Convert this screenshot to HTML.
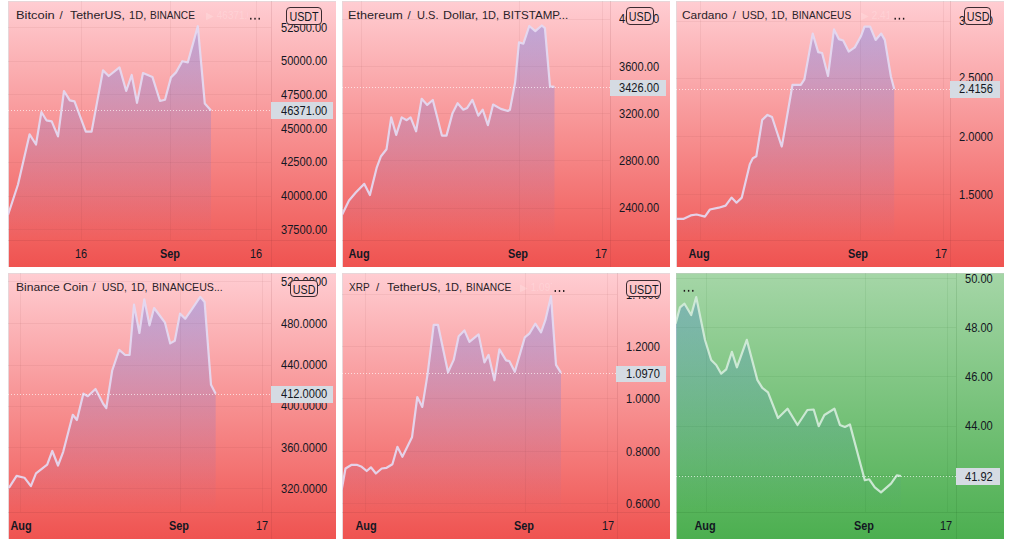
<!DOCTYPE html><html><head><meta charset="utf-8"><style>
*{margin:0;padding:0;box-sizing:border-box}
html,body{width:1014px;height:541px;background:#fff;overflow:hidden;font-family:"Liberation Sans",sans-serif;color:#131722}
.t{position:absolute;white-space:pre;line-height:14px;height:14px}
.pl{font-size:12px;transform:scaleX(0.925);transform-origin:0 50%}
.tl{font-size:12px;text-align:center;width:40px;transform:scaleX(0.91);transform-origin:50% 50%}
.b{font-weight:bold}
.ti{font-size:11.5px;color:#2a2228}
.box{position:absolute;border:1.5px solid #3b2a30;border-radius:4px;text-align:center}
.box span{display:block;position:relative;top:2px;font-size:12.5px;line-height:15px;transform:scaleX(0.86);transform-origin:50% 50%}
.lp{position:absolute;background:#d5dbe3}
</style></head><body><svg width="1014" height="541" viewBox="0 0 1014 541" style="position:absolute;left:0;top:0">
<defs>
<linearGradient id="bg0" x1="0" y1="1" x2="0" y2="267" gradientUnits="userSpaceOnUse"><stop offset="0" stop-color="#ffcdd2"/><stop offset="1" stop-color="#ef5350"/></linearGradient>
<linearGradient id="fg0" x1="0" y1="1" x2="0" y2="240" gradientUnits="userSpaceOnUse"><stop offset="0" stop-color="rgb(41,98,255)" stop-opacity="0.32"/><stop offset="1" stop-color="rgb(41,98,255)" stop-opacity="0"/></linearGradient>
<clipPath id="cp0"><rect x="8" y="1" width="263" height="239"/></clipPath>
<linearGradient id="bg1" x1="0" y1="1" x2="0" y2="267" gradientUnits="userSpaceOnUse"><stop offset="0" stop-color="#ffcdd2"/><stop offset="1" stop-color="#ef5350"/></linearGradient>
<linearGradient id="fg1" x1="0" y1="1" x2="0" y2="240" gradientUnits="userSpaceOnUse"><stop offset="0" stop-color="rgb(41,98,255)" stop-opacity="0.32"/><stop offset="1" stop-color="rgb(41,98,255)" stop-opacity="0"/></linearGradient>
<clipPath id="cp1"><rect x="342" y="1" width="268" height="239"/></clipPath>
<linearGradient id="bg2" x1="0" y1="1" x2="0" y2="267" gradientUnits="userSpaceOnUse"><stop offset="0" stop-color="#ffcdd2"/><stop offset="1" stop-color="#ef5350"/></linearGradient>
<linearGradient id="fg2" x1="0" y1="1" x2="0" y2="240" gradientUnits="userSpaceOnUse"><stop offset="0" stop-color="rgb(41,98,255)" stop-opacity="0.32"/><stop offset="1" stop-color="rgb(41,98,255)" stop-opacity="0"/></linearGradient>
<clipPath id="cp2"><rect x="676" y="1" width="274.3" height="239"/></clipPath>
<linearGradient id="bg3" x1="0" y1="273" x2="0" y2="539" gradientUnits="userSpaceOnUse"><stop offset="0" stop-color="#ffcdd2"/><stop offset="1" stop-color="#ef5350"/></linearGradient>
<linearGradient id="fg3" x1="0" y1="273" x2="0" y2="512" gradientUnits="userSpaceOnUse"><stop offset="0" stop-color="rgb(41,98,255)" stop-opacity="0.32"/><stop offset="1" stop-color="rgb(41,98,255)" stop-opacity="0"/></linearGradient>
<clipPath id="cp3"><rect x="8" y="273" width="263" height="239"/></clipPath>
<linearGradient id="bg4" x1="0" y1="273" x2="0" y2="539" gradientUnits="userSpaceOnUse"><stop offset="0" stop-color="#ffcdd2"/><stop offset="1" stop-color="#ef5350"/></linearGradient>
<linearGradient id="fg4" x1="0" y1="273" x2="0" y2="512" gradientUnits="userSpaceOnUse"><stop offset="0" stop-color="rgb(41,98,255)" stop-opacity="0.32"/><stop offset="1" stop-color="rgb(41,98,255)" stop-opacity="0"/></linearGradient>
<clipPath id="cp4"><rect x="342" y="273" width="275" height="239"/></clipPath>
<linearGradient id="bg5" x1="0" y1="273" x2="0" y2="539" gradientUnits="userSpaceOnUse"><stop offset="0" stop-color="#a5d6a7"/><stop offset="1" stop-color="#4caf50"/></linearGradient>
<linearGradient id="fg5" x1="0" y1="273" x2="0" y2="512" gradientUnits="userSpaceOnUse"><stop offset="0" stop-color="rgb(52,112,222)" stop-opacity="0.32"/><stop offset="1" stop-color="rgb(52,112,222)" stop-opacity="0"/></linearGradient>
<clipPath id="cp5"><rect x="676" y="273" width="280" height="239"/></clipPath>
</defs>
<rect x="8" y="1" width="328" height="266" fill="url(#bg0)"/>
<rect x="8" y="1" width="328" height="1" fill="#e8d6d9"/><rect x="8" y="1" width="1" height="266" fill="#e8d6d9"/>
<line x1="8" y1="27.5" x2="271" y2="27.5" stroke="rgba(120,40,50,0.065)" stroke-width="1"/>
<line x1="8" y1="61.5" x2="271" y2="61.5" stroke="rgba(120,40,50,0.065)" stroke-width="1"/>
<line x1="8" y1="94.5" x2="271" y2="94.5" stroke="rgba(120,40,50,0.065)" stroke-width="1"/>
<line x1="8" y1="128.5" x2="271" y2="128.5" stroke="rgba(120,40,50,0.065)" stroke-width="1"/>
<line x1="8" y1="162.5" x2="271" y2="162.5" stroke="rgba(120,40,50,0.065)" stroke-width="1"/>
<line x1="8" y1="196.5" x2="271" y2="196.5" stroke="rgba(120,40,50,0.065)" stroke-width="1"/>
<line x1="8" y1="229.5" x2="271" y2="229.5" stroke="rgba(120,40,50,0.065)" stroke-width="1"/>
<line x1="81.5" y1="1" x2="81.5" y2="240" stroke="rgba(120,40,50,0.065)" stroke-width="1"/>
<line x1="170.5" y1="1" x2="170.5" y2="240" stroke="rgba(120,40,50,0.065)" stroke-width="1"/>
<line x1="256.5" y1="1" x2="256.5" y2="240" stroke="rgba(120,40,50,0.065)" stroke-width="1"/>
<line x1="271.5" y1="1" x2="271.5" y2="267" stroke="rgba(120,40,50,0.12)"/>
<line x1="8" y1="240.5" x2="336" y2="240.5" stroke="rgba(120,40,50,0.12)"/>
<g clip-path="url(#cp0)"><path d="M8.0,215.0 L18.0,184.5 L29.6,134.3 L36.0,144.5 L41.4,112.0 L46.4,120.3 L51.7,121.4 L58.0,136.4 L64.0,91.0 L69.8,100.4 L74.5,101.3 L85.8,131.6 L91.6,131.6 L103.0,70.4 L108.7,76.0 L119.5,67.4 L126.2,91.0 L131.7,75.0 L137.0,102.8 L143.0,73.0 L152.4,76.9 L160.0,101.0 L165.0,99.8 L171.0,77.4 L176.0,72.4 L182.3,61.2 L187.8,62.4 L197.8,26.2 L204.8,103.6 L211.0,110.5 L211.0,240 L8.0,240 Z" fill="url(#fg0)"/>
<path d="M8.0,215.0 L18.0,184.5 L29.6,134.3 L36.0,144.5 L41.4,112.0 L46.4,120.3 L51.7,121.4 L58.0,136.4 L64.0,91.0 L69.8,100.4 L74.5,101.3 L85.8,131.6 L91.6,131.6 L103.0,70.4 L108.7,76.0 L119.5,67.4 L126.2,91.0 L131.7,75.0 L137.0,102.8 L143.0,73.0 L152.4,76.9 L160.0,101.0 L165.0,99.8 L171.0,77.4 L176.0,72.4 L182.3,61.2 L187.8,62.4 L197.8,26.2 L204.8,103.6 L211.0,110.5" fill="none" stroke="rgba(228,218,242,0.92)" stroke-width="2.2" stroke-linejoin="round"/>
<line x1="8" y1="110.5" x2="271" y2="110.5" stroke="rgba(255,255,255,0.65)" stroke-width="1" stroke-dasharray="1 2"/></g>
<rect x="250.1" y="17.8" width="1.4" height="1.8" fill="#1d1418"/>
<rect x="254.3" y="17.8" width="1.4" height="1.8" fill="#1d1418"/>
<rect x="258.5" y="17.8" width="1.4" height="1.8" fill="#1d1418"/>
<rect x="342" y="1" width="328" height="266" fill="url(#bg1)"/>
<rect x="342" y="1" width="328" height="1" fill="#e8d6d9"/><rect x="342" y="1" width="1" height="266" fill="#e8d6d9"/>
<line x1="342" y1="19.5" x2="610" y2="19.5" stroke="rgba(120,40,50,0.065)" stroke-width="1"/>
<line x1="342" y1="66.5" x2="610" y2="66.5" stroke="rgba(120,40,50,0.065)" stroke-width="1"/>
<line x1="342" y1="113.5" x2="610" y2="113.5" stroke="rgba(120,40,50,0.065)" stroke-width="1"/>
<line x1="342" y1="160.5" x2="610" y2="160.5" stroke="rgba(120,40,50,0.065)" stroke-width="1"/>
<line x1="342" y1="208.5" x2="610" y2="208.5" stroke="rgba(120,40,50,0.065)" stroke-width="1"/>
<line x1="361.5" y1="1" x2="361.5" y2="240" stroke="rgba(120,40,50,0.065)" stroke-width="1"/>
<line x1="519.5" y1="1" x2="519.5" y2="240" stroke="rgba(120,40,50,0.065)" stroke-width="1"/>
<line x1="602.5" y1="1" x2="602.5" y2="240" stroke="rgba(120,40,50,0.065)" stroke-width="1"/>
<line x1="610.5" y1="1" x2="610.5" y2="267" stroke="rgba(120,40,50,0.12)"/>
<line x1="342" y1="240.5" x2="670" y2="240.5" stroke="rgba(120,40,50,0.12)"/>
<g clip-path="url(#cp1)"><path d="M342.2,214.4 L349.0,200.5 L356.0,192.2 L364.3,183.9 L369.9,195.0 L376.8,167.3 L381.0,156.2 L386.5,149.3 L391.2,117.4 L396.2,134.9 L401.7,117.4 L406.7,120.2 L410.6,117.4 L416.1,131.3 L421.7,98.8 L427.2,104.9 L432.8,100.0 L441.9,135.6 L446.5,135.6 L452.4,113.6 L457.6,103.2 L463.3,109.7 L467.2,107.9 L472.4,99.9 L478.3,115.6 L482.7,109.7 L487.9,125.2 L493.1,104.5 L500.8,108.9 L507.8,111.0 L509.9,109.7 L515.1,82.5 L519.0,42.4 L523.4,43.7 L529.3,26.0 L535.3,31.2 L541.8,25.5 L544.9,28.1 L550.0,86.4 L554.5,86.9 L554.5,240 L342.2,240 Z" fill="url(#fg1)"/>
<path d="M342.2,214.4 L349.0,200.5 L356.0,192.2 L364.3,183.9 L369.9,195.0 L376.8,167.3 L381.0,156.2 L386.5,149.3 L391.2,117.4 L396.2,134.9 L401.7,117.4 L406.7,120.2 L410.6,117.4 L416.1,131.3 L421.7,98.8 L427.2,104.9 L432.8,100.0 L441.9,135.6 L446.5,135.6 L452.4,113.6 L457.6,103.2 L463.3,109.7 L467.2,107.9 L472.4,99.9 L478.3,115.6 L482.7,109.7 L487.9,125.2 L493.1,104.5 L500.8,108.9 L507.8,111.0 L509.9,109.7 L515.1,82.5 L519.0,42.4 L523.4,43.7 L529.3,26.0 L535.3,31.2 L541.8,25.5 L544.9,28.1 L550.0,86.4 L554.5,86.9" fill="none" stroke="rgba(228,218,242,0.92)" stroke-width="2.2" stroke-linejoin="round"/>
<line x1="342" y1="87.5" x2="610" y2="87.5" stroke="rgba(255,255,255,0.65)" stroke-width="1" stroke-dasharray="1 2"/></g>
<rect x="676" y="1" width="328" height="266" fill="url(#bg2)"/>
<rect x="676" y="1" width="328" height="1" fill="#e8d6d9"/><rect x="676" y="1" width="1" height="266" fill="#e8d6d9"/>
<line x1="676" y1="21.5" x2="950.3" y2="21.5" stroke="rgba(120,40,50,0.065)" stroke-width="1"/>
<line x1="676" y1="78.5" x2="950.3" y2="78.5" stroke="rgba(120,40,50,0.065)" stroke-width="1"/>
<line x1="676" y1="136.5" x2="950.3" y2="136.5" stroke="rgba(120,40,50,0.065)" stroke-width="1"/>
<line x1="676" y1="194.5" x2="950.3" y2="194.5" stroke="rgba(120,40,50,0.065)" stroke-width="1"/>
<line x1="700.5" y1="1" x2="700.5" y2="240" stroke="rgba(120,40,50,0.065)" stroke-width="1"/>
<line x1="860.5" y1="1" x2="860.5" y2="240" stroke="rgba(120,40,50,0.065)" stroke-width="1"/>
<line x1="943.5" y1="1" x2="943.5" y2="240" stroke="rgba(120,40,50,0.065)" stroke-width="1"/>
<line x1="950.5" y1="1" x2="950.5" y2="267" stroke="rgba(120,40,50,0.12)"/>
<line x1="676" y1="240.5" x2="1004" y2="240.5" stroke="rgba(120,40,50,0.12)"/>
<g clip-path="url(#cp2)"><path d="M675.5,218.9 L683.3,218.9 L690.7,215.4 L696.6,214.5 L704.9,216.6 L709.9,209.5 L718.8,207.7 L725.6,205.6 L731.5,197.6 L736.5,202.7 L741.8,197.6 L749.8,164.2 L752.8,158.3 L756.3,156.3 L762.2,119.9 L767.5,114.9 L772.0,117.0 L781.7,146.5 L782.2,144.4 L792.5,84.8 L800.8,84.8 L804.4,79.3 L812.7,33.6 L818.2,52.1 L822.1,53.0 L828.0,76.0 L834.0,29.4 L838.8,39.1 L843.2,40.5 L848.7,51.6 L854.8,47.4 L860.9,36.3 L864.5,26.6 L870.1,26.6 L875.6,39.9 L881.2,33.6 L884.8,39.9 L890.9,76.5 L894.2,89.0 L894.2,240 L675.5,240 Z" fill="url(#fg2)"/>
<path d="M675.5,218.9 L683.3,218.9 L690.7,215.4 L696.6,214.5 L704.9,216.6 L709.9,209.5 L718.8,207.7 L725.6,205.6 L731.5,197.6 L736.5,202.7 L741.8,197.6 L749.8,164.2 L752.8,158.3 L756.3,156.3 L762.2,119.9 L767.5,114.9 L772.0,117.0 L781.7,146.5 L782.2,144.4 L792.5,84.8 L800.8,84.8 L804.4,79.3 L812.7,33.6 L818.2,52.1 L822.1,53.0 L828.0,76.0 L834.0,29.4 L838.8,39.1 L843.2,40.5 L848.7,51.6 L854.8,47.4 L860.9,36.3 L864.5,26.6 L870.1,26.6 L875.6,39.9 L881.2,33.6 L884.8,39.9 L890.9,76.5 L894.2,89.0" fill="none" stroke="rgba(228,218,242,0.92)" stroke-width="2.2" stroke-linejoin="round"/>
<line x1="676" y1="89.5" x2="950.3" y2="89.5" stroke="rgba(255,255,255,0.65)" stroke-width="1" stroke-dasharray="1 2"/></g>
<rect x="894.5" y="17.8" width="1.4" height="1.8" fill="#1d1418"/>
<rect x="898.7" y="17.8" width="1.4" height="1.8" fill="#1d1418"/>
<rect x="902.9" y="17.8" width="1.4" height="1.8" fill="#1d1418"/>
<rect x="8" y="273" width="328" height="266" fill="url(#bg3)"/>
<rect x="8" y="273" width="328" height="1" fill="#e8d6d9"/><rect x="8" y="273" width="1" height="266" fill="#e8d6d9"/>
<line x1="8" y1="281.5" x2="271" y2="281.5" stroke="rgba(120,40,50,0.065)" stroke-width="1"/>
<line x1="8" y1="323.5" x2="271" y2="323.5" stroke="rgba(120,40,50,0.065)" stroke-width="1"/>
<line x1="8" y1="365.5" x2="271" y2="365.5" stroke="rgba(120,40,50,0.065)" stroke-width="1"/>
<line x1="8" y1="406.5" x2="271" y2="406.5" stroke="rgba(120,40,50,0.065)" stroke-width="1"/>
<line x1="8" y1="447.5" x2="271" y2="447.5" stroke="rgba(120,40,50,0.065)" stroke-width="1"/>
<line x1="8" y1="488.5" x2="271" y2="488.5" stroke="rgba(120,40,50,0.065)" stroke-width="1"/>
<line x1="20.5" y1="273" x2="20.5" y2="512" stroke="rgba(120,40,50,0.065)" stroke-width="1"/>
<line x1="180.5" y1="273" x2="180.5" y2="512" stroke="rgba(120,40,50,0.065)" stroke-width="1"/>
<line x1="262.5" y1="273" x2="262.5" y2="512" stroke="rgba(120,40,50,0.065)" stroke-width="1"/>
<line x1="271.5" y1="273" x2="271.5" y2="539" stroke="rgba(120,40,50,0.12)"/>
<line x1="8" y1="512.5" x2="336" y2="512.5" stroke="rgba(120,40,50,0.12)"/>
<g clip-path="url(#cp3)"><path d="M8.9,488.0 L16.6,475.9 L24.4,477.7 L30.9,486.2 L36.0,473.3 L47.2,464.7 L52.3,451.0 L58.0,465.5 L63.2,451.8 L72.8,414.8 L76.9,420.0 L83.4,393.6 L87.8,396.2 L95.5,389.0 L103.3,404.0 L106.3,408.0 L112.2,370.5 L119.2,349.8 L125.2,355.0 L129.6,355.0 L134.0,304.6 L139.4,333.0 L144.3,299.4 L149.5,325.3 L154.1,308.0 L159.3,315.0 L165.0,322.7 L170.2,343.4 L174.8,340.8 L180.0,313.6 L185.2,318.8 L191.6,309.7 L200.2,296.8 L204.6,302.0 L211.0,384.7 L215.7,393.8 L215.7,512 L8.9,512 Z" fill="url(#fg3)"/>
<path d="M8.9,488.0 L16.6,475.9 L24.4,477.7 L30.9,486.2 L36.0,473.3 L47.2,464.7 L52.3,451.0 L58.0,465.5 L63.2,451.8 L72.8,414.8 L76.9,420.0 L83.4,393.6 L87.8,396.2 L95.5,389.0 L103.3,404.0 L106.3,408.0 L112.2,370.5 L119.2,349.8 L125.2,355.0 L129.6,355.0 L134.0,304.6 L139.4,333.0 L144.3,299.4 L149.5,325.3 L154.1,308.0 L159.3,315.0 L165.0,322.7 L170.2,343.4 L174.8,340.8 L180.0,313.6 L185.2,318.8 L191.6,309.7 L200.2,296.8 L204.6,302.0 L211.0,384.7 L215.7,393.8" fill="none" stroke="rgba(228,218,242,0.92)" stroke-width="2.2" stroke-linejoin="round"/>
<line x1="8" y1="394.5" x2="271" y2="394.5" stroke="rgba(255,255,255,0.65)" stroke-width="1" stroke-dasharray="1 2"/></g>
<rect x="342" y="273" width="328" height="266" fill="url(#bg4)"/>
<rect x="342" y="273" width="328" height="1" fill="#e8d6d9"/><rect x="342" y="273" width="1" height="266" fill="#e8d6d9"/>
<line x1="342" y1="294.5" x2="617" y2="294.5" stroke="rgba(120,40,50,0.065)" stroke-width="1"/>
<line x1="342" y1="346.5" x2="617" y2="346.5" stroke="rgba(120,40,50,0.065)" stroke-width="1"/>
<line x1="342" y1="398.5" x2="617" y2="398.5" stroke="rgba(120,40,50,0.065)" stroke-width="1"/>
<line x1="342" y1="451.5" x2="617" y2="451.5" stroke="rgba(120,40,50,0.065)" stroke-width="1"/>
<line x1="342" y1="503.5" x2="617" y2="503.5" stroke="rgba(120,40,50,0.065)" stroke-width="1"/>
<line x1="365.5" y1="273" x2="365.5" y2="512" stroke="rgba(120,40,50,0.065)" stroke-width="1"/>
<line x1="525.5" y1="273" x2="525.5" y2="512" stroke="rgba(120,40,50,0.065)" stroke-width="1"/>
<line x1="607.5" y1="273" x2="607.5" y2="512" stroke="rgba(120,40,50,0.065)" stroke-width="1"/>
<line x1="617.5" y1="273" x2="617.5" y2="539" stroke="rgba(120,40,50,0.12)"/>
<line x1="342" y1="512.5" x2="670" y2="512.5" stroke="rgba(120,40,50,0.12)"/>
<g clip-path="url(#cp4)"><path d="M341.7,489.7 L345.5,468.5 L351.7,464.8 L356.7,464.8 L361.7,466.8 L366.7,471.0 L370.9,467.3 L375.9,473.5 L381.7,468.5 L386.6,467.8 L392.4,464.3 L397.4,446.8 L402.4,456.8 L412.0,437.3 L417.3,397.0 L422.3,406.9 L427.5,374.8 L433.7,324.9 L438.0,324.9 L448.0,372.3 L453.7,359.9 L458.7,336.2 L464.4,330.4 L469.4,341.9 L478.6,334.4 L484.4,362.4 L488.6,354.9 L494.4,380.3 L499.4,349.4 L506.1,360.4 L509.3,361.1 L514.8,371.8 L524.8,337.4 L529.3,333.7 L535.3,323.7 L541.0,332.4 L545.3,320.4 L551.0,296.2 L556.0,364.9 L561.0,372.8 L561.0,512 L341.7,512 Z" fill="url(#fg4)"/>
<path d="M341.7,489.7 L345.5,468.5 L351.7,464.8 L356.7,464.8 L361.7,466.8 L366.7,471.0 L370.9,467.3 L375.9,473.5 L381.7,468.5 L386.6,467.8 L392.4,464.3 L397.4,446.8 L402.4,456.8 L412.0,437.3 L417.3,397.0 L422.3,406.9 L427.5,374.8 L433.7,324.9 L438.0,324.9 L448.0,372.3 L453.7,359.9 L458.7,336.2 L464.4,330.4 L469.4,341.9 L478.6,334.4 L484.4,362.4 L488.6,354.9 L494.4,380.3 L499.4,349.4 L506.1,360.4 L509.3,361.1 L514.8,371.8 L524.8,337.4 L529.3,333.7 L535.3,323.7 L541.0,332.4 L545.3,320.4 L551.0,296.2 L556.0,364.9 L561.0,372.8" fill="none" stroke="rgba(228,218,242,0.92)" stroke-width="2.2" stroke-linejoin="round"/>
<line x1="342" y1="373.5" x2="617" y2="373.5" stroke="rgba(255,255,255,0.65)" stroke-width="1" stroke-dasharray="1 2"/></g>
<rect x="554.6" y="290.1" width="1.4" height="1.8" fill="#1d1418"/>
<rect x="558.8" y="290.1" width="1.4" height="1.8" fill="#1d1418"/>
<rect x="563.0" y="290.1" width="1.4" height="1.8" fill="#1d1418"/>
<rect x="676" y="273" width="328" height="266" fill="url(#bg5)"/>
<rect x="676" y="273" width="328" height="1" fill="#b4d0b6"/><rect x="676" y="273" width="1" height="266" fill="#b4d0b6"/>
<line x1="676" y1="278.5" x2="956" y2="278.5" stroke="rgba(20,80,20,0.07)" stroke-width="1"/>
<line x1="676" y1="327.5" x2="956" y2="327.5" stroke="rgba(20,80,20,0.07)" stroke-width="1"/>
<line x1="676" y1="376.5" x2="956" y2="376.5" stroke="rgba(20,80,20,0.07)" stroke-width="1"/>
<line x1="676" y1="426.5" x2="956" y2="426.5" stroke="rgba(20,80,20,0.07)" stroke-width="1"/>
<line x1="676" y1="475.5" x2="956" y2="475.5" stroke="rgba(20,80,20,0.07)" stroke-width="1"/>
<line x1="706.5" y1="273" x2="706.5" y2="512" stroke="rgba(20,80,20,0.07)" stroke-width="1"/>
<line x1="865.5" y1="273" x2="865.5" y2="512" stroke="rgba(20,80,20,0.07)" stroke-width="1"/>
<line x1="947.5" y1="273" x2="947.5" y2="512" stroke="rgba(20,80,20,0.07)" stroke-width="1"/>
<line x1="956.5" y1="273" x2="956.5" y2="539" stroke="rgba(20,80,20,0.12)"/>
<line x1="676" y1="512.5" x2="1004" y2="512.5" stroke="rgba(20,80,20,0.12)"/>
<g clip-path="url(#cp5)"><path d="M675.5,323.7 L680.0,307.4 L684.5,303.7 L691.2,315.0 L696.2,297.0 L705.0,340.0 L711.2,360.0 L716.2,365.0 L721.2,373.7 L726.2,369.3 L731.9,351.9 L736.9,367.3 L746.8,339.9 L757.3,379.8 L762.3,387.8 L768.0,392.3 L778.0,418.0 L787.5,408.7 L797.5,425.0 L807.4,410.0 L813.7,409.5 L818.7,426.2 L824.4,415.0 L834.4,408.7 L839.9,424.9 L844.9,426.9 L849.9,424.4 L864.8,480.3 L869.3,479.3 L874.8,487.3 L881.0,492.3 L891.0,483.6 L896.8,475.3 L901.0,476.0 L901.0,512 L675.5,512 Z" fill="url(#fg5)"/>
<path d="M675.5,323.7 L680.0,307.4 L684.5,303.7 L691.2,315.0 L696.2,297.0 L705.0,340.0 L711.2,360.0 L716.2,365.0 L721.2,373.7 L726.2,369.3 L731.9,351.9 L736.9,367.3 L746.8,339.9 L757.3,379.8 L762.3,387.8 L768.0,392.3 L778.0,418.0 L787.5,408.7 L797.5,425.0 L807.4,410.0 L813.7,409.5 L818.7,426.2 L824.4,415.0 L834.4,408.7 L839.9,424.9 L844.9,426.9 L849.9,424.4 L864.8,480.3 L869.3,479.3 L874.8,487.3 L881.0,492.3 L891.0,483.6 L896.8,475.3 L901.0,476.0" fill="none" stroke="rgba(212,236,218,0.92)" stroke-width="2.2" stroke-linejoin="round"/>
<line x1="676" y1="476.5" x2="956" y2="476.5" stroke="rgba(255,255,255,0.65)" stroke-width="1" stroke-dasharray="1 2"/></g>
<rect x="683.7" y="289.9" width="1.4" height="1.8" fill="#1d1418"/>
<rect x="687.9" y="289.9" width="1.4" height="1.8" fill="#1d1418"/>
<rect x="692.1" y="289.9" width="1.4" height="1.8" fill="#1d1418"/></svg>
<div class="t pl" style="left:281.0px;top:20.5px">52500.00</div>
<div class="t pl" style="left:281.0px;top:54.2px">50000.00</div>
<div class="t pl" style="left:281.0px;top:88.0px">47500.00</div>
<div class="t pl" style="left:281.0px;top:121.7px">45000.00</div>
<div class="t pl" style="left:281.0px;top:155.4px">42500.00</div>
<div class="t pl" style="left:281.0px;top:189.2px">40000.00</div>
<div class="t pl" style="left:281.0px;top:222.9px">37500.00</div>
<div class="lp" style="left:271px;top:102px;width:62px;height:16.7px"></div>
<div class="t pl" style="left:281.0px;top:103.5px">46371.00</div>
<div class="box" style="left:286px;top:7px;width:36px;height:18px;background:#fdc5c9"><span>USDT</span></div>
<div class="t tl" style="left:61.0px;top:246.6px">16</div>
<div class="t tl b" style="left:150.3px;top:246.6px">Sep</div>
<div class="t tl" style="left:235.5px;top:246.6px">16</div>
<div class="t ti" style="left:206px;top:9px;width:42px;overflow:hidden;color:rgba(255,255,255,0.2);font-size:10px">&#9654; 46371.00</div>
<div class="t ti" style="left:15.68px;top:8.2px;transform:scaleX(1.1212);transform-origin:0 0">Bitcoin</div>
<div class="t ti" style="left:59.40px;top:8.2px;transform:scaleX(1.0000);transform-origin:0 0">/</div>
<div class="t ti" style="left:70.40px;top:8.2px;transform:scaleX(1.0760);transform-origin:0 0">TetherUS,</div>
<div class="t ti" style="left:129.04px;top:8.2px;transform:scaleX(0.9625);transform-origin:0 0">1D,</div>
<div class="t ti" style="left:149.92px;top:8.2px;transform:scaleX(0.8780);transform-origin:0 0">BINANCE</div>
<div class="t pl" style="left:619.3px;top:12.4px">4000.00</div>
<div class="t pl" style="left:619.3px;top:59.7px">3600.00</div>
<div class="t pl" style="left:619.3px;top:106.7px">3200.00</div>
<div class="t pl" style="left:619.3px;top:154.1px">2800.00</div>
<div class="t pl" style="left:619.3px;top:201.4px">2400.00</div>
<div class="lp" style="left:610px;top:79.6px;width:56px;height:16.3px"></div>
<div class="t pl" style="left:619.3px;top:80.5px">3426.00</div>
<div class="box" style="left:626px;top:7px;width:28px;height:18px;background:#fdc5c9"><span>USD</span></div>
<div class="t tl b" style="left:339.2px;top:246.6px">Aug</div>
<div class="t tl b" style="left:498.3px;top:246.6px">Sep</div>
<div class="t tl" style="left:581.0px;top:246.6px">17</div>
<div class="t ti" style="left:348.30px;top:8.2px;transform:scaleX(1.1000);transform-origin:0 0">Ethereum</div>
<div class="t ti" style="left:407.60px;top:8.2px;transform:scaleX(1.0000);transform-origin:0 0">/</div>
<div class="t ti" style="left:417.04px;top:8.2px;transform:scaleX(0.9600);transform-origin:0 0">U.S.</div>
<div class="t ti" style="left:442.82px;top:8.2px;transform:scaleX(1.0839);transform-origin:0 0">Dollar,</div>
<div class="t ti" style="left:482.44px;top:8.2px;transform:scaleX(0.9563);transform-origin:0 0">1D,</div>
<div class="t ti" style="left:502.59px;top:8.2px;transform:scaleX(1.0079);transform-origin:0 0">BITSTAMP...</div>
<div class="t pl" style="left:959.1px;top:14.2px">3.0000</div>
<div class="t pl" style="left:959.1px;top:71.4px">2.5000</div>
<div class="t pl" style="left:959.1px;top:129.7px">2.0000</div>
<div class="t pl" style="left:959.1px;top:187.8px">1.5000</div>
<div class="lp" style="left:950px;top:80.5px;width:50px;height:17px"></div>
<div class="t pl" style="left:959.1px;top:82.4px">2.4156</div>
<div class="box" style="left:964px;top:7px;width:27px;height:18px;background:#fdc5c9"><span>USD</span></div>
<div class="t tl b" style="left:679.2px;top:246.6px">Aug</div>
<div class="t tl b" style="left:838.2px;top:246.6px">Sep</div>
<div class="t tl" style="left:920.7px;top:246.6px">17</div>
<div class="t ti" style="left:861px;top:9px;width:28px;overflow:hidden;color:rgba(255,255,255,0.2);font-size:10px">&#9654; 2.4156</div>
<div class="t ti" style="left:681.66px;top:8.2px;transform:scaleX(1.0372);transform-origin:0 0">Cardano</div>
<div class="t ti" style="left:732.70px;top:8.2px;transform:scaleX(1.0000);transform-origin:0 0">/</div>
<div class="t ti" style="left:742.07px;top:8.2px;transform:scaleX(0.9280);transform-origin:0 0">USD,</div>
<div class="t ti" style="left:771.48px;top:8.2px;transform:scaleX(0.9250);transform-origin:0 0">1D,</div>
<div class="t ti" style="left:792.22px;top:8.2px;transform:scaleX(0.8818);transform-origin:0 0">BINANCEUS</div>
<div class="t pl" style="left:281.3px;top:275.0px">520.0000</div>
<div class="t pl" style="left:281.3px;top:316.6px">480.0000</div>
<div class="t pl" style="left:281.3px;top:358.2px">440.0000</div>
<div class="t pl" style="left:281.3px;top:399.4px">400.0000</div>
<div class="t pl" style="left:281.3px;top:440.7px">360.0000</div>
<div class="t pl" style="left:281.3px;top:482.0px">320.0000</div>
<div class="lp" style="left:271px;top:385.5px;width:62px;height:17px"></div>
<div class="t pl" style="left:281.3px;top:387.3px">412.0000</div>
<div class="box" style="left:290px;top:280px;width:28px;height:17px;background:#fdc5c9"><span>USD</span></div>
<div class="t tl b" style="left:0.5px;top:518.6px">Aug</div>
<div class="t tl b" style="left:159.4px;top:518.6px">Sep</div>
<div class="t tl" style="left:242.4px;top:518.6px">17</div>
<div class="t ti" style="left:15.55px;top:280.2px;transform:scaleX(1.0550);transform-origin:0 0">Binance</div>
<div class="t ti" style="left:62.85px;top:280.2px;transform:scaleX(1.0545);transform-origin:0 0">Coin</div>
<div class="t ti" style="left:92.50px;top:280.2px;transform:scaleX(1.0000);transform-origin:0 0">/</div>
<div class="t ti" style="left:101.99px;top:280.2px;transform:scaleX(0.9080);transform-origin:0 0">USD,</div>
<div class="t ti" style="left:131.07px;top:280.2px;transform:scaleX(0.9250);transform-origin:0 0">1D,</div>
<div class="t ti" style="left:151.88px;top:280.2px;transform:scaleX(0.9227);transform-origin:0 0">BINANCEUS...</div>
<div class="t pl" style="left:625.8px;top:287.8px">1.4000</div>
<div class="t pl" style="left:625.8px;top:340.1px">1.2000</div>
<div class="t pl" style="left:625.8px;top:392.0px">1.0000</div>
<div class="t pl" style="left:625.8px;top:444.7px">0.8000</div>
<div class="t pl" style="left:625.8px;top:496.7px">0.6000</div>
<div class="lp" style="left:616px;top:365.5px;width:50px;height:16.3px"></div>
<div class="t pl" style="left:625.8px;top:366.8px">1.0970</div>
<div class="box" style="left:626px;top:279.5px;width:35px;height:17.5px;background:#fdc5c9"><span>USDT</span></div>
<div class="t tl b" style="left:345.5px;top:518.6px">Aug</div>
<div class="t tl b" style="left:504.0px;top:518.6px">Sep</div>
<div class="t tl" style="left:587.5px;top:518.6px">17</div>
<div class="t ti" style="left:520px;top:281px;width:32px;overflow:hidden;color:rgba(255,255,255,0.2);font-size:10px">&#9654; 1.0970</div>
<div class="t ti" style="left:349.03px;top:280.2px;transform:scaleX(0.8727);transform-origin:0 0">XRP</div>
<div class="t ti" style="left:376.00px;top:280.2px;transform:scaleX(1.0000);transform-origin:0 0">/</div>
<div class="t ti" style="left:386.90px;top:280.2px;transform:scaleX(1.0500);transform-origin:0 0">TetherUS,</div>
<div class="t ti" style="left:444.84px;top:280.2px;transform:scaleX(0.9563);transform-origin:0 0">1D,</div>
<div class="t ti" style="left:465.61px;top:280.2px;transform:scaleX(0.8880);transform-origin:0 0">BINANCE</div>
<div class="t pl" style="left:964.8px;top:271.9px">50.00</div>
<div class="t pl" style="left:964.8px;top:321.0px">48.00</div>
<div class="t pl" style="left:964.8px;top:370.1px">46.00</div>
<div class="t pl" style="left:964.8px;top:419.2px">44.00</div>
<div class="lp" style="left:956px;top:468.4px;width:43.5px;height:16.3px"></div>
<div class="t pl" style="left:964.8px;top:469.7px">41.92</div>
<div class="t tl b" style="left:685.3px;top:518.6px">Aug</div>
<div class="t tl b" style="left:844.0px;top:518.6px">Sep</div>
<div class="t tl" style="left:926.2px;top:518.6px">17</div></body></html>
